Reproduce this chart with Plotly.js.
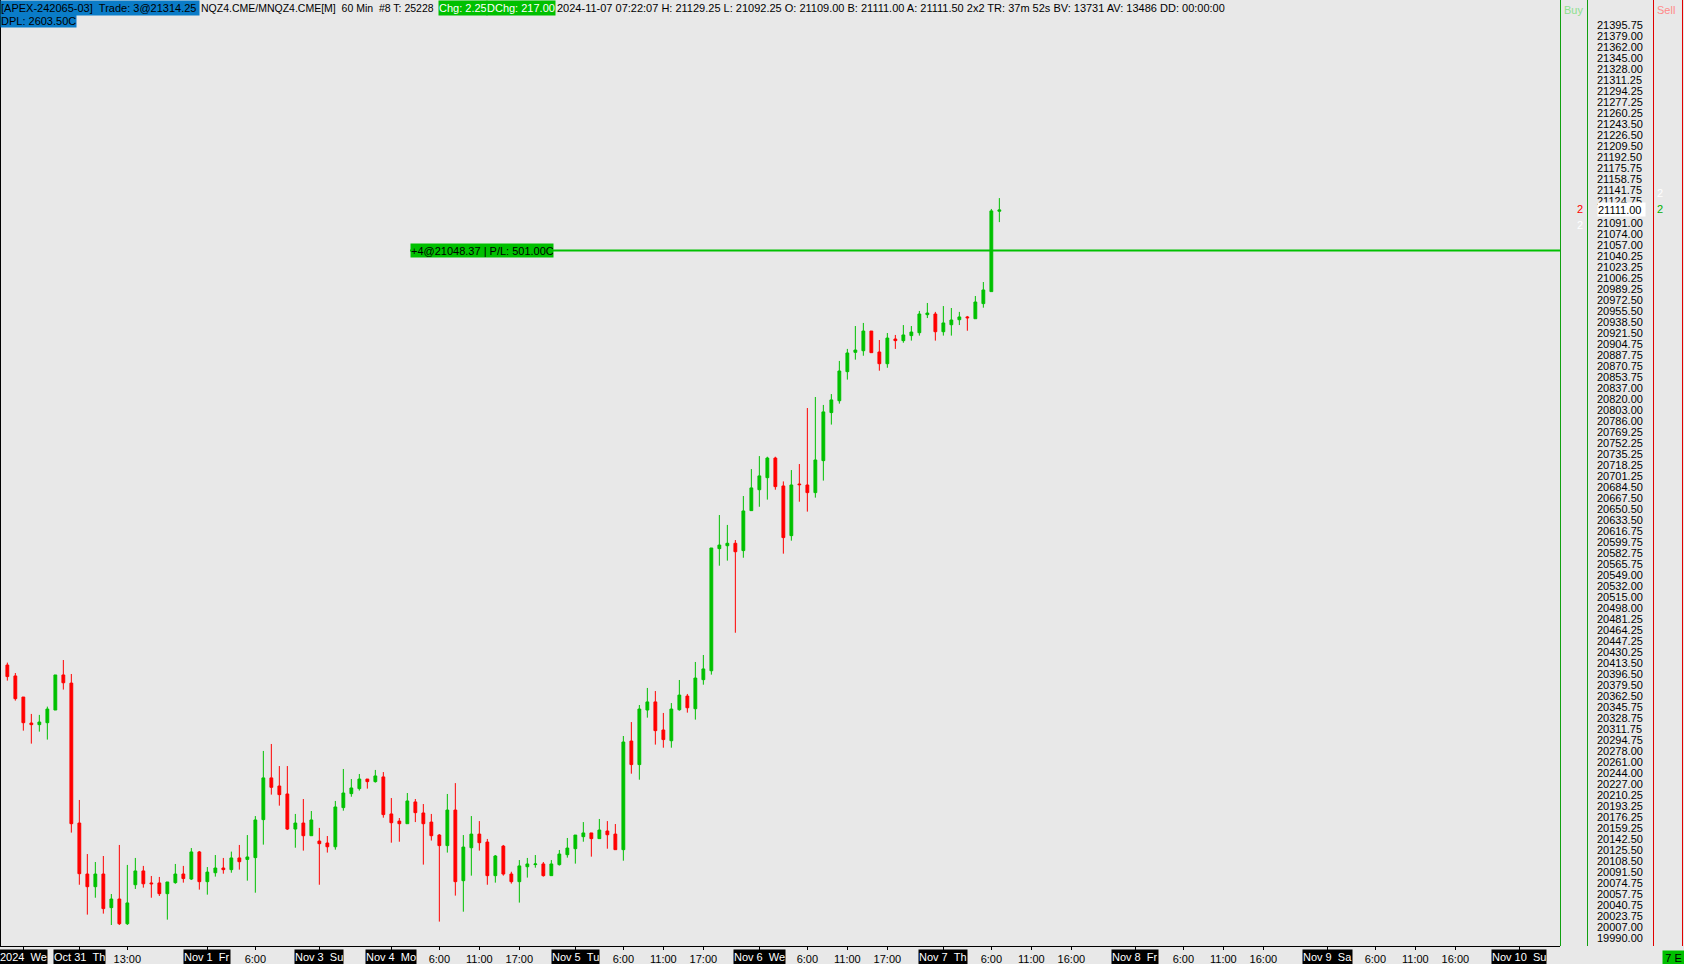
<!DOCTYPE html>
<html>
<head>
<meta charset="utf-8">
<script src="https://cdn.plot.ly/plotly-3.0.1.min.js"></script>
<style>html,body{margin:0;padding:0;background:#E8E8E8;}#chart{width:1684px;height:964px;}</style>
</head>
<body>
<div id="chart"></div>
<script>
// ---- Data (hourly bars, MNQ/NQ Dec 2024, 60 Min) ----
const openPx = [20410.25,20393.50,20361.00,20321.00,20318.50,20321.50,20341.00,20395.00,20382.50,20167.00,
20088.50,20069.00,20088.50,20036.75,20050.00,20012.00,20072.00,20093.25,20074.75,20074.75,
20058.25,20075.25,20088.50,20080.75,20122.50,20076.75,20090.50,20097.75,20095.25,20113.25,
20111.00,20113.75,20172.25,20236.50,20224.00,20211.75,20157.75,20167.00,20147.50,20139.25,
20136.25,20130.50,20190.75,20212.25,20220.00,20234.75,20230.75,20238.00,20181.00,20170.00,
20166.00,20199.50,20182.50,20168.50,20148.50,20132.25,20187.00,20078.25,20129.00,20150.00,
20137.75,20086.00,20131.50,20088.50,20076.75,20099.75,20103.00,20104.00,20086.00,20103.00,
20118.25,20127.50,20146.00,20151.75,20143.00,20154.75,20150.00,20126.00,20293.25,20257.00,
20341.00,20353.50,20310.25,20293.75,20341.50,20362.50,20343.00,20387.75,20401.50,20589.50,
20594.00,20597.75,20586.50,20648.00,20680.25,20698.75,20729.00,20686.00,20609.50,20689.00,
20687.50,20675.75,20725.00,20799.00,20817.25,20862.00,20891.75,20894.25,20924.50,20892.25,
20874.25,20912.25,20909.75,20917.50,20922.00,20949.75,20950.75,20923.50,20934.25,20942.00,
20946.25,20943.50,20966.75,20985.25,21109.00];
const highPx = [20414.00,20398.00,20361.00,20335.00,20333.50,20346.25,20395.00,20418.00,20396.50,20202.50,
20119.25,20107.00,20116.25,20057.75,20133.25,20102.50,20113.25,20101.00,20085.50,20084.00,
20076.25,20104.00,20101.00,20128.50,20124.00,20099.25,20117.75,20113.25,20123.00,20133.25,
20148.50,20177.75,20278.00,20288.75,20254.75,20254.75,20181.00,20204.00,20185.50,20159.50,
20147.00,20201.00,20250.25,20234.75,20242.50,20234.75,20248.75,20245.50,20205.50,20174.75,
20213.25,20204.00,20196.25,20181.00,20150.00,20211.75,20228.50,20148.50,20177.75,20170.00,
20142.50,20117.75,20133.25,20092.00,20110.00,20113.25,20117.75,20107.00,20110.00,20125.50,
20144.00,20148.50,20168.50,20151.75,20173.25,20170.00,20165.50,20301.00,20322.50,20348.75,
20375.00,20370.25,20336.50,20351.75,20387.25,20365.75,20415.00,20425.75,20590.50,20641.25,
20626.00,20602.75,20670.50,20712.00,20732.00,20731.00,20731.00,20693.00,20710.50,20719.75,
20806.00,20823.00,20810.75,20827.50,20878.50,20897.00,20932.25,20937.00,20924.50,20910.75,
20921.50,20918.50,20933.75,20932.25,20955.50,20967.75,20954.00,20963.00,20960.00,20954.00,
20947.75,20978.50,21000.00,21112.50,21129.25];
const lowPx = [20386.25,20355.50,20309.25,20289.25,20307.75,20295.50,20341.00,20372.50,20152.25,20072.00,
20026.00,20052.00,20027.50,20010.00,20010.00,20010.00,20065.50,20067.50,20052.00,20054.75,
20018.25,20073.50,20075.25,20079.25,20064.50,20056.75,20084.50,20089.00,20090.50,20095.25,
20078.25,20059.75,20133.75,20210.75,20193.75,20156.25,20129.00,20124.50,20147.50,20072.00,
20121.50,20126.00,20186.00,20207.50,20217.00,20220.00,20229.25,20175.25,20136.75,20138.25,
20166.00,20168.50,20103.00,20140.00,20015.25,20121.50,20055.25,20030.50,20086.00,20124.50,
20072.00,20075.25,20086.00,20073.75,20044.50,20083.00,20098.25,20084.50,20086.00,20101.50,
20113.75,20104.50,20138.25,20115.25,20143.00,20127.50,20126.00,20109.00,20243.00,20233.75,
20329.25,20287.75,20283.00,20283.00,20340.00,20337.00,20326.25,20380.00,20395.50,20563.25,
20571.00,20460.00,20575.50,20648.00,20654.00,20665.00,20680.25,20581.75,20601.75,20661.75,
20646.50,20668.00,20694.25,20780.50,20812.75,20849.75,20880.50,20886.50,20891.25,20863.50,
20868.00,20897.00,20906.50,20909.75,20917.50,20944.50,20909.75,20917.50,20917.50,20933.75,
20925.00,20943.50,20960.50,20985.25,21092.25];
const closePx = [20392.50,20358.50,20321.50,20318.50,20322.50,20342.50,20395.00,20383.00,20166.00,20089.00,
20069.00,20088.50,20035.25,20050.00,20012.00,20044.00,20093.25,20073.50,20073.50,20058.25,
20076.25,20088.50,20081.50,20122.50,20076.75,20091.50,20097.75,20095.25,20113.25,20107.50,
20114.75,20171.75,20236.50,20222.00,20210.75,20157.75,20167.00,20147.50,20171.75,20135.25,
20130.50,20191.75,20213.25,20221.00,20234.75,20230.75,20239.50,20180.00,20167.50,20166.00,
20201.00,20183.00,20166.00,20147.50,20132.25,20187.00,20076.75,20130.00,20150.00,20136.75,
20086.00,20116.25,20088.50,20076.75,20101.00,20104.00,20104.00,20086.00,20104.00,20119.25,
20128.50,20148.50,20151.75,20143.00,20156.25,20149.00,20126.00,20291.75,20257.00,20342.50,
20353.50,20309.25,20295.50,20342.50,20364.00,20344.50,20390.25,20404.25,20590.50,20595.00,
20597.75,20584.75,20647.50,20683.00,20701.50,20729.00,20685.00,20606.50,20687.50,20688.00,
20675.75,20726.00,20800.00,20818.50,20863.00,20890.75,20895.25,20924.50,20891.25,20874.25,
20913.75,20909.75,20918.50,20923.00,20950.75,20952.25,20923.50,20937.00,20941.50,20946.25,
20945.00,20969.25,20987.75,21109.50,21111.00];

// Time axis labels (bar index positions)
const timeTickIdx  = [15, 31, 54, 59, 64, 77, 82, 87, 100, 105, 110, 123, 128, 133, 147, 152, 157, 171, 176, 181];
const timeTickText = ['13:00','6:00','6:00','11:00','17:00','6:00','11:00','17:00','6:00','11:00','17:00','6:00','11:00','16:00','6:00','11:00','16:00','6:00','11:00','16:00'];
const dateTickIdx  = [2, 9, 25, 39, 48, 71, 94, 117, 141, 165, 189];
const dateTickText = ['2024\u00a0\u00a0We','Oct 31\u00a0\u00a0Th','Nov 1\u00a0\u00a0Fr','Nov 3\u00a0\u00a0Su','Nov 4\u00a0\u00a0Mo','Nov 5\u00a0\u00a0Tu','Nov 6\u00a0\u00a0We','Nov 7\u00a0\u00a0Th','Nov 8\u00a0\u00a0Fr','Nov 9\u00a0\u00a0Sa','Nov 10\u00a0\u00a0Su'];

// Price scale labels
const yTickText = ['21395.75','21379.00','21362.00','21345.00','21328.00','21311.25','21294.25','21277.25','21260.25','21243.50',
'21226.50','21209.50','21192.50','21175.75','21158.75','21141.75','21124.75','21091.00','21074.00','21057.00',
'21040.25','21023.25','21006.25','20989.25','20972.50','20955.50','20938.50','20921.50','20904.75','20887.75',
'20870.75','20853.75','20837.00','20820.00','20803.00','20786.00','20769.25','20752.25','20735.25','20718.25',
'20701.25','20684.50','20667.50','20650.50','20633.50','20616.75','20599.75','20582.75','20565.75','20549.00',
'20532.00','20515.00','20498.00','20481.25','20464.25','20447.25','20430.25','20413.50','20396.50','20379.50',
'20362.50','20345.75','20328.75','20311.75','20294.75','20278.00','20261.00','20244.00','20227.00','20210.25',
'20193.25','20176.25','20159.25','20142.50','20125.50','20108.50','20091.50','20074.75','20057.75','20040.75',
'20023.75','20007.00','19990.00'];
const lastPrice = 21111.00;
const positionPrice = 21048.37;
const positionText = '+4@21048.37 | P/L: 501.00C';

// Header strings
const headerAcct = '[APEX-242065-03]\u00a0\u00a0Trade: 3@21314.25';
const headerSym = 'NQZ4.CME/MNQZ4.CME[M]\u00a0\u00a060 Min\u00a0\u00a0#8 T: 25228';
const headerChg = 'Chg: 2.25';
const headerDChg = 'DChg: 217.00';
const headerInfo = '2024-11-07 07:22:07 H: 21129.25 L: 21092.25 O: 21109.00 B: 21111.00 A: 21111.50 2x2 TR: 37m 52s BV: 13731 AV: 13486 DD: 00:00:00';
const headerDPL = 'DPL: 2603.50C';

// ---- Layout helpers ----
const W = 1684, H = 964, PW = 1560, PH = 946;
const FONT = 'Liberation Sans, Arial, sans-serif';
const px = v => v / PW;          // pixel x -> paper
const py = v => 1 - v / PH;      // pixel y -> paper

const barIdx = openPx.map((_, i) => i);

const candles = {
  type: 'candlestick',
  x: barIdx, open: openPx, high: highPx, low: lowPx, close: closePx,
  increasing: {line: {color: '#00C000', width: 1}, fillcolor: '#00C000'},
  decreasing: {line: {color: '#FF0000', width: 1}, fillcolor: '#FF0000'},
  whiskerwidth: 0,
  hoverinfo: 'skip',
  showlegend: false
};

const allTickIdx = timeTickIdx.concat(dateTickIdx);
const allTickText = timeTickText.concat(dateTickIdx.map(() => ''));

const annotations = [];
function hdr(text, x, y, opts) {
  annotations.push(Object.assign({
    text: text, xref: 'paper', yref: 'paper', x: px(x), y: py(y),
    xanchor: 'left', yanchor: 'top', showarrow: false, align: 'left',
    font: {family: FONT, size: 11, color: '#000'}, borderpad: 0
  }, opts || {}));
}
hdr(headerAcct, 0, 0, {bgcolor: '#0A7CC8', width: 198, height: 14});
hdr(headerSym, 200, 0, {height: 14, font: {family: FONT, size: 10.5, color: '#000'}});
hdr(headerChg, 437.5, 0, {bgcolor: '#00C000', width: 48, height: 14, font: {family: FONT, size: 11, color: '#FFFFFF'}});
hdr(headerDChg, 486, 0, {bgcolor: '#00C000', width: 68, height: 14, font: {family: FONT, size: 11, color: '#FFFFFF'}});
hdr(headerInfo, 556, 0, {height: 14});
hdr(headerDPL, 0, 14, {bgcolor: '#0A7CC8', width: 75, height: 12});

// date labels on the time axis
dateTickIdx.forEach((d, k) => {
  annotations.push({
    text: dateTickText[k], xref: 'x', yref: 'paper', x: d, y: py(956.5),
    xanchor: 'center', yanchor: 'middle', showarrow: false,
    bgcolor: '#000', borderpad: 0, height: 14,
    font: {family: FONT, size: 11, color: '#FFFFFF'}
  });
});

// position label
annotations.push({
  text: positionText, xref: 'paper', yref: 'y', x: px(410), y: positionPrice,
  xanchor: 'left', yanchor: 'middle', showarrow: false, align: 'left',
  bgcolor: '#00C000', borderpad: 0, width: 142, height: 13,
  font: {family: FONT, size: 11, color: '#000'}
});
// last price box
annotations.push({
  text: lastPrice.toFixed(2), xref: 'paper', yref: 'y', x: px(1597), y: lastPrice,
  xanchor: 'left', yanchor: 'middle', showarrow: false, align: 'left',
  bgcolor: '#FFFFFF', borderpad: 0, width: 47, height: 13,
  font: {family: FONT, size: 11, color: '#000'}
});
// Buy / Sell column texts
function side(text, x, y, color) {
  annotations.push({text: text, xref: 'paper', yref: 'paper', x: px(x), y: py(y),
    xanchor: 'center', yanchor: 'middle', showarrow: false,
    font: {family: FONT, size: 11, color: color}});
}
side('Buy', 1573, 10, '#8EE08E');
side('Sell', 1666, 10, '#FF8A8A');
side('2', 1579.5, 209, '#FF0000');
side('2', 1579.5, 225, '#FFFFFF');
side('2', 1660, 193, '#FFFFFF');
side('2', 1660, 209, '#00B000');
annotations.push({text: '7 E', xref: 'paper', yref: 'paper', x: px(1662), y: py(957),
  xanchor: 'left', yanchor: 'middle', showarrow: false, bgcolor: '#00C000', borderpad: 0,
  width: 21, height: 13, font: {family: FONT, size: 11, color: '#000'}});

const vline = (x, color) => ({type: 'line', xref: 'paper', yref: 'paper', x0: px(x), x1: px(x), y0: 0, y1: 1,
  line: {color: color, width: 1}});
const shapes = [
  {type: 'line', xref: 'paper', yref: 'y', x0: px(410), x1: 1, y0: positionPrice, y1: positionPrice,
   line: {color: '#00C000', width: 2}},
  vline(0.5, '#000000'),
  vline(1560.5, '#10A010'),
  vline(1587.5, '#10A010'),
  vline(1653.5, '#E00000'),
  vline(1682.5, '#E00000')
];

const layout = {
  width: W, height: H, autosize: false,
  margin: {l: 0, r: W - PW, t: 0, b: H - PH, pad: 0},
  paper_bgcolor: '#E8E8E8', plot_bgcolor: '#E8E8E8',
  boxgap: 0.5,
  showlegend: false,
  xaxis: {
    range: [-0.917, 194.08], rangeslider: {visible: false},
    showgrid: false, zeroline: false,
    showline: true, linecolor: '#000', linewidth: 1,
    ticks: 'outside', ticklen: 3, tickwidth: 1, tickcolor: '#000',
    tickmode: 'array', tickvals: allTickIdx, ticktext: allTickText,
    tickfont: {family: FONT, size: 11, color: '#000'}
  },
  yaxis: {
    side: 'right', range: [19977.68, 21434.24],
    showgrid: false, zeroline: false, showline: false, ticks: '',
    tickmode: 'array', tickvals: yTickText.map(Number), ticktext: yTickText,
    tickfont: {family: FONT, size: 11, color: '#000'},
    ticklabelstandoff: 36
  },
  annotations: annotations,
  shapes: shapes
};

Plotly.newPlot('chart', [candles], layout, {staticPlot: true, displayModeBar: false});
</script>
</body>
</html>
